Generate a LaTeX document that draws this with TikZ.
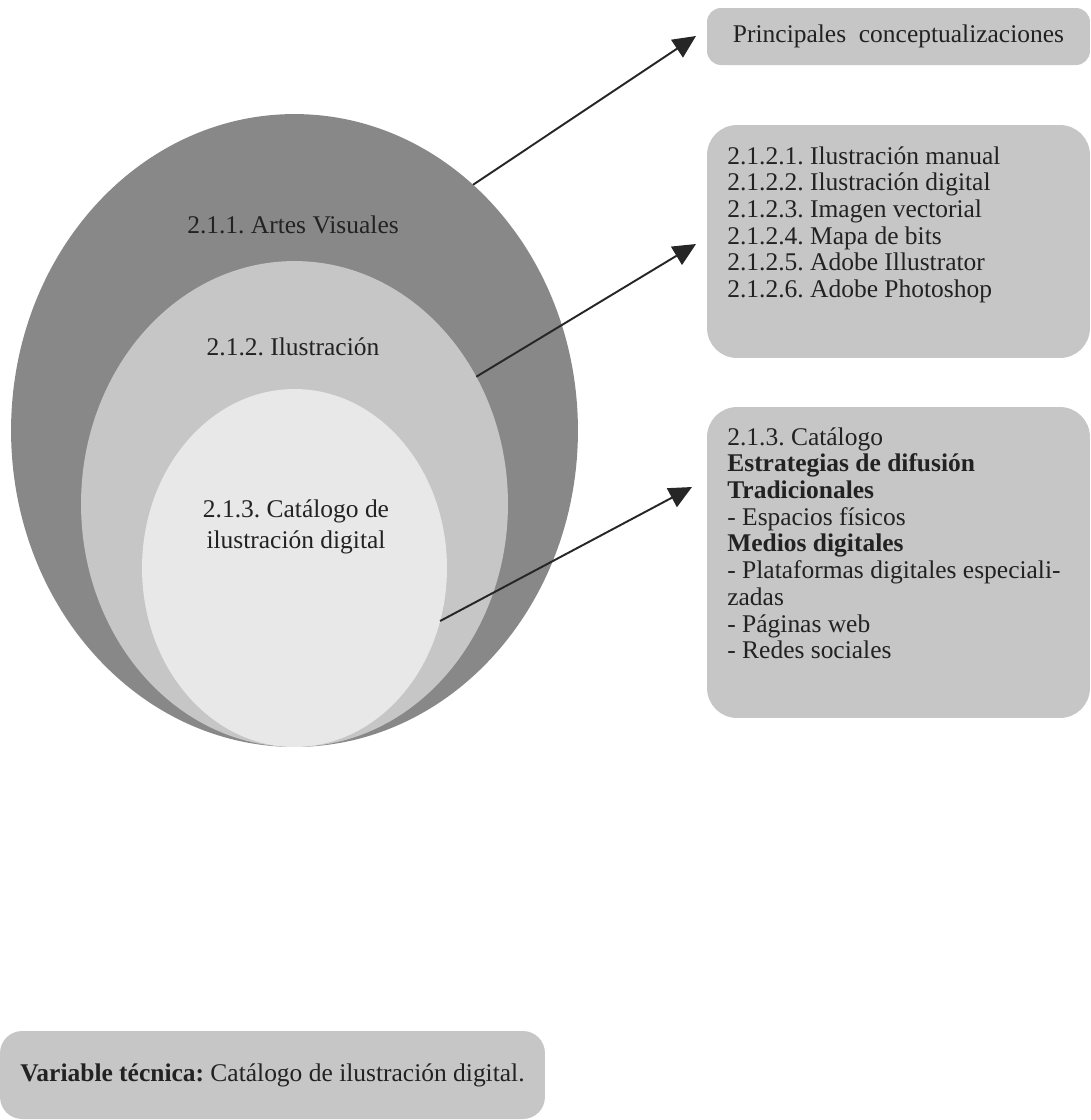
\documentclass[tikz,border=0pt]{standalone}
\usepackage{fontspec}
\setmainfont{Liberation Serif}
\usepackage{xcolor}
\usepackage{tikz}
\usetikzlibrary{arrows.meta, positioning, shapes.geometric}
\definecolor{visgray}{HTML}{888888}
\definecolor{ilugray}{HTML}{C6C6C6}
\definecolor{catgray}{HTML}{E8E8E8}
\definecolor{boxgray}{HTML}{C6C6C6}
\definecolor{inkgray}{HTML}{222222}
\definecolor{arrowgray}{HTML}{262626}
\frenchspacing

\begin{document}
\begin{tikzpicture}[x=0.02cm, y=-0.02cm,
    every node/.style={font=\fontsize{14.5pt}{15.2pt}\selectfont, text=inkgray},
    capa/.style={ellipse, inner sep=0pt, outer sep=0pt},
    caja/.style={fill=boxgray, inner sep=0pt, minimum width=7.66cm},
    lista/.style={anchor=north west, align=left, inner sep=0pt},
    flecha/.style={draw=arrowgray, line width=1.1pt, -{Triangle[length=13pt, width=12pt]}}]
    \useasboundingbox (0,0) rectangle (1091,1120);

    \node[capa, fill=visgray, minimum width=11.34cm, minimum height=12.66cm] (artes) at (294.5,430.5) {};
    \node[capa, fill=ilugray, minimum width=8.54cm, minimum height=9.72cm] (ilus) at (294.5,504) {};
    \node[capa, fill=catgray, minimum width=6.1cm, minimum height=7.16cm] (catal) at (294.5,568) {};

    \node (tartes) at (293,225) {2.1.1. Artes Visuales};
    \node (tilus) at (293,347) {2.1.2. Ilustración};
    \node[align=center, font=\fontsize{14.5pt}{17.6pt}\selectfont] (tcatal) at (296,527) {2.1.3. Catálogo de\\ilustración digital};

    \node[caja, rounded corners=0.28cm, minimum height=1.14cm] (conc) at (898.5,36.5) {Principales\ \ conceptualizaciones};

    \node[caja, rounded corners=0.6cm, minimum height=4.66cm] (ilusbox) at (898.5,241.5) {};
    \node[lista] (ilustxt) at (727,146) {2.1.2.1. Ilustración manual\\
      2.1.2.2. Ilustración digital\\
      2.1.2.3. Imagen vectorial\\
      2.1.2.4. Mapa de bits\\
      2.1.2.5. Adobe Illustrator\\
      2.1.2.6. Adobe Photoshop};

    \node[caja, rounded corners=0.6cm, minimum height=6.22cm] (catbox) at (898.5,562.5) {};
    \node[lista] (cattxt) at (727,427) {2.1.3. Catálogo\\
      \textbf{Estrategias de difusión}\\
      \textbf{Tradicionales}\\
      - Espacios físicos\\
      \textbf{Medios digitales}\\
      - Plataformas digitales especiali-\\
      zadas\\
      - Páginas web\\
      - Redes sociales};

    \node[caja, rounded corners=0.44cm, minimum width=10.9cm, minimum height=1.76cm] (variable) at (272.5,1075) {\textbf{Variable técnica:} Catálogo de ilustración digital.};

    \coordinate (p1) at (696,36);
    \coordinate (p2) at (696,244);
    \coordinate (p3) at (692,487);
    \draw[flecha] (artes.54.5) -- (p1);
    \draw[flecha] (ilus.35.8) -- (p2);
    \draw[flecha] (catal.340) -- (p3);
\end{tikzpicture}
\end{document}
